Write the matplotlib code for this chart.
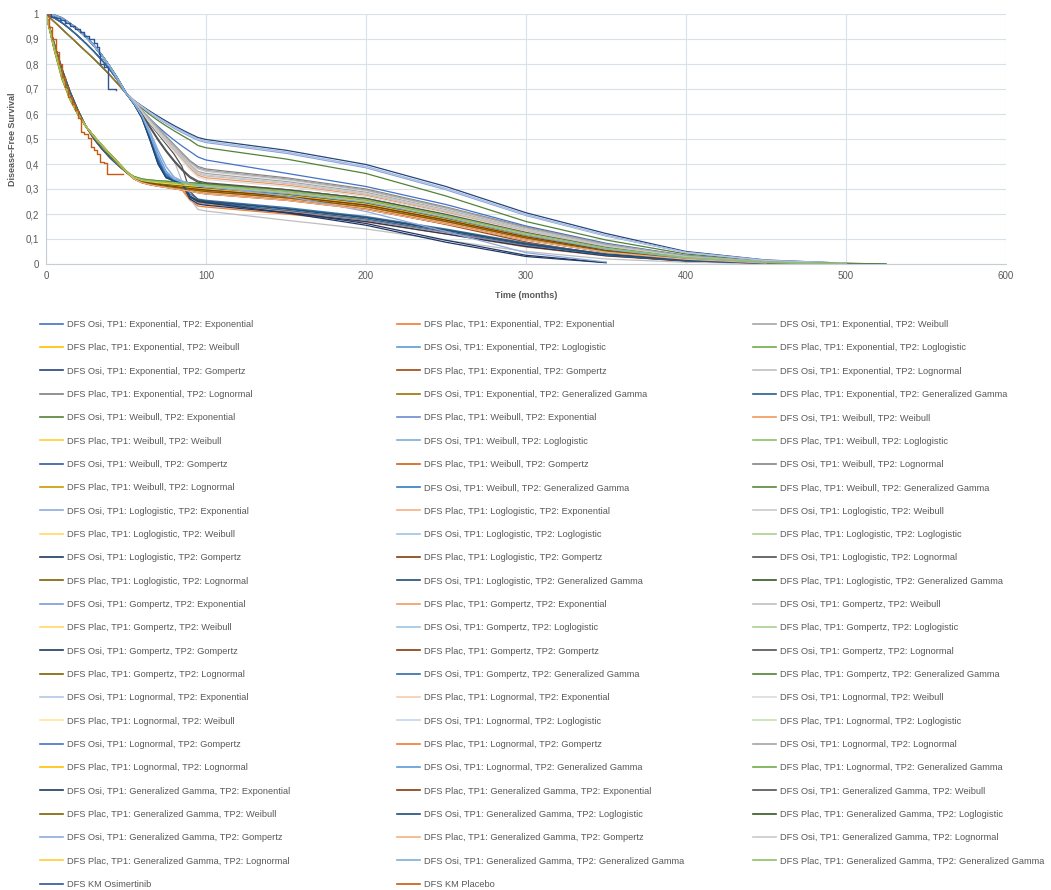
import numpy as np
import matplotlib.pyplot as plt
from matplotlib.ticker import FuncFormatter
from matplotlib.lines import Line2D

plt.rcParams['font.family'] = ['Liberation Sans', 'DejaVu Sans']
TXT = '#595959'

tp_names = ["Exponential", "Weibull", "Loglogistic", "Gompertz", "Lognormal", "Generalized Gamma"]

# time grid (months): first part shared per TP1, second part per curve
months_early = [0, 5, 10, 15, 20, 25, 30, 35, 40, 45, 50]
months_late = [55, 60, 65, 70, 75, 80, 85, 90, 95, 100, 150, 200, 250, 300, 350, 400, 450, 500, 525]

# ---- Osimertinib, months 0-50, by TP1
osi_early_exponential = [1, .97, .94, .91, .88, .85, .82, .788, .755, .72, .683]
osi_early_weibull = [1, .995, .983, .962, .94, .91, .875, .835, .79, .74, .685]
osi_early_loglogistic = [1, .994, .981, .96, .937, .907, .872, .832, .787, .737, .683]
osi_early_gompertz = [1, .985, .965, .94, .912, .882, .85, .815, .777, .733, .685]
osi_early_lognormal = [1, .997, .985, .963, .94, .91, .874, .833, .787, .736, .682]
osi_early_gengamma = [1, .995, .982, .961, .938, .908, .873, .833, .788, .738, .683]

# ---- Placebo, months 0-50, by TP1
plac_early_exponential = [1, .885, .78, .69, .615, .55, .5, .46, .425, .395, .368]
plac_early_weibull = [1, .87, .75, .665, .6, .55, .51, .473, .438, .404, .37]
plac_early_loglogistic = [1, .865, .745, .66, .598, .55, .51, .474, .44, .406, .372]
plac_early_gompertz = [1, .875, .76, .67, .603, .55, .508, .47, .435, .401, .368]
plac_early_lognormal = [1, .86, .74, .658, .597, .55, .511, .475, .441, .407, .373]
plac_early_gengamma = [1, .868, .748, .662, .6, .55, .51, .474, .439, .405, .371]

# ---- Osimertinib curves after month 50
osi_upper_navy = [.655, .632, .611, .591, .572, .554, .537, .521, .506, .498, .455, .398, .31, .205, .122, .05, .016, .003, 0]
osi_upper_lightblue_a = [.654, .63, .607, .586, .566, .548, .531, .515, .5, .491, .448, .39, .302, .198, .115, .047, .015, .003, None]
osi_upper_lightblue_b = [.653, .628, .604, .582, .562, .543, .526, .51, .495, .486, .443, .385, .297, .194, .112, .046, .014, .003, None]
osi_upper_paleblue = [.653, .629, .606, .584, .564, .546, .529, .513, .498, .489, .446, .388, .3, .196, .113, .046, .014, .003, None]
osi_upper_green = [.65, .622, .597, .574, .553, .533, .514, .496, .474, .465, .42, .362, .272, .17, .096, .04, .012, .002, 0]
osi_upper_blue = [.645, .612, .58, .55, .522, .496, .472, .45, .428, .416, .363, .31, .238, .152, .083, .034, .01, .002, None]

osi_gray_a = [.652, .615, .58, .546, .512, .478, .445, .413, .39, .38, .345, .3, .228, .148, .08, .033, .009, .002, None]
osi_gray_b = [.651, .613, .577, .542, .507, .472, .438, .405, .38, .37, .337, .293, .222, .143, .077, .031, .009, .002, None]
osi_gray_c = [.65, .611, .573, .537, .501, .466, .431, .397, .37, .362, .33, .287, .217, .14, .074, .03, .008, .001, None]
osi_gray_d = [.649, .608, .569, .532, .495, .459, .424, .39, .361, .352, .322, .28, .211, .135, .071, .029, .008, .001, None]
osi_gray_e = [.648, .606, .566, .528, .491, .455, .42, .384, .355, .345, .316, .275, .207, .132, .069, .028, .008, .001, None]
osi_gray_f = [.647, .604, .563, .525, .487, .45, .414, .378, .348, .338, .31, .27, .203, .129, .067, .027, .007, .001, None]
osi_gray_g = [.652, .614, .578, .544, .509, .475, .441, .409, .385, .375, .341, .296, .225, .146, .079, .032, .009, .002, None]
osi_gray_h = [.65, .61, .571, .534, .498, .462, .427, .393, .365, .356, .325, .283, .214, .137, .072, .029, .008, .001, None]
osi_mid_a = [.645, .6, .55, .5, .455, .415, .38, .35, .332, .325, .298, .262, .198, .126, .066, .027, .007, .001, None]
osi_mid_b = [.644, .598, .545, .495, .45, .41, .375, .345, .327, .32, .293, .257, .194, .123, .064, .026, .007, .001, None]

osi_steep_band_a = [.64, .585, .5, .405, .348, .333, .325, .318, .312, .308, .283, .248, .187, .117, .06, .024, .006, .001, None]
osi_steep_band_b = [.642, .59, .515, .43, .365, .338, .328, .32, .313, .309, .285, .25, .189, .119, .061, .025, .006, .001, None]
osi_steep_band_c = [.641, .587, .505, .415, .355, .335, .326, .319, .311, .305, .28, .244, .183, .114, .058, .023, .006, .001, None]
osi_steep_band_d = [.643, .595, .53, .455, .39, .348, .332, .322, .315, .311, .288, .253, .192, .121, .063, .025, .006, .001, None]
osi_steep_band_e = [.64, .583, .495, .4, .345, .332, .324, .316, .309, .302, .276, .24, .179, .11, .055, .022, .005, .001, None]
osi_steep_band_f = [.641, .588, .508, .42, .358, .336, .327, .319, .312, .306, .281, .246, .185, .115, .059, .023, .006, .001, None]
osi_steep_band_g = [.642, .59, .512, .425, .36, .337, .328, .321, .315, .312, .289, .254, .193, .122, .063, .026, .006, .001, None]
osi_steep_band_h = [.64, .584, .497, .402, .347, .333, .325, .317, .31, .304, .279, .243, .182, .113, .057, .023, .005, .001, None]
osi_steep_band_i = [.643, .593, .522, .44, .372, .34, .329, .321, .314, .309, .284, .249, .188, .118, .06, .024, .006, .001, None]
osi_steep_band_j = [.642, .591, .516, .432, .366, .339, .328, .32, .313, .307, .282, .247, .186, .116, .059, .024, .006, .001, None]

osi_steep_low_a = [.64, .585, .5, .405, .348, .333, .322, .272, .254, .25, .22, .185, .135, .08, .038, .015, .004, .001, None]
osi_steep_low_b = [.641, .587, .505, .415, .353, .334, .32, .265, .245, .24, .21, .176, .127, .074, .035, .013, .003, None, None]
osi_steep_low_c = [.642, .59, .51, .42, .36, .336, .318, .26, .24, .235, .205, .17, .12, .07, .033, .013, .003, None, None]
osi_steep_low_d = [.642, .59, .512, .425, .36, .337, .325, .28, .26, .255, .226, .19, .14, .084, .04, .016, .004, .001, None]
osi_steep_low_e = [.641, .586, .502, .41, .35, .333, .321, .268, .25, .245, .215, .18, .13, .077, .036, .014, .003, None, None]

osi_end_a = [.64, .583, .495, .4, .345, .332, .32, .268, .25, .245, .205, .155, .087, .03, .005, None, None, None, None]
osi_end_b = [.641, .586, .5, .41, .35, .333, .321, .27, .253, .248, .21, .162, .095, .035, .006, None, None, None, None]
osi_end_c = [.643, .595, .53, .455, .39, .348, .332, .322, .315, .31, .272, .21, .13, .045, .008, None, None, None, None]
osi_low_gray = [.645, .6, .55, .5, .455, .415, .33, .26, .218, .212, .175, .14, .095, .05, .02, .007, .002, None, None]
osi_low_darkgray = [.646, .603, .56, .52, .48, .44, .39, .29, .258, .252, .222, .187, .137, .082, .04, .016, .004, .001, None]

# ---- Placebo curves after month 50
plac_band_a1 = [.35, .34, .336, .333, .331, .329, .327, .325, .323, .321, .297, .262, .198, .126, .066, .027, .007, .001, None]
plac_band_a2 = [.348, .337, .333, .33, .327, .325, .323, .32, .318, .316, .292, .257, .194, .123, .064, .026, .007, .001, None]
plac_band_b1 = [.346, .334, .329, .325, .322, .319, .316, .313, .311, .309, .284, .25, .188, .119, .061, .025, .006, .001, None]
plac_band_b2 = [.345, .332, .327, .323, .319, .316, .313, .31, .307, .305, .28, .245, .184, .116, .059, .024, .006, .001, None]
plac_band_c1 = [.344, .331, .325, .321, .317, .313, .309, .306, .303, .3, .275, .24, .18, .112, .057, .023, .006, .001, None]
plac_band_c2 = [.343, .33, .323, .319, .314, .31, .306, .302, .299, .296, .271, .236, .176, .109, .055, .022, .005, .001, None]
plac_band_d1 = [.342, .328, .321, .316, .311, .307, .303, .298, .294, .29, .265, .229, .17, .104, .052, .021, .005, .001, None]
plac_band_d2 = [.341, .327, .319, .314, .309, .304, .3, .295, .29, .286, .26, .224, .166, .1, .05, .02, .005, .001, None]
plac_band_e1 = [.34, .325, .317, .311, .306, .301, .296, .291, .285, .28, .255, .218, .16, .096, .047, .019, .004, None, None]
plac_low_a = [.34, .325, .317, .312, .307, .302, .296, .255, .232, .228, .2, .168, .12, .068, .032, .012, .003, None, None]
plac_low_b = [.341, .326, .319, .314, .309, .305, .299, .265, .244, .24, .212, .178, .128, .075, .035, .014, .003, None, None]
plac_gomp = [.342, .328, .321, .316, .311, .307, .303, .298, .294, .29, .262, .222, .158, .088, .036, .01, .002, None, None]

# which late curve belongs to which model (rows: TP1, columns: TP2)
osi_tp1_exponential = [osi_upper_blue, osi_gray_c, osi_steep_band_a, osi_upper_navy, osi_low_gray, osi_steep_band_g]
osi_tp1_weibull = [osi_upper_green, osi_gray_e, osi_steep_band_b, osi_steep_low_b, osi_gray_a, osi_steep_low_d]
osi_tp1_loglogistic = [osi_upper_lightblue_a, osi_gray_b, osi_steep_band_c, osi_end_b, osi_low_darkgray, osi_steep_band_h]
osi_tp1_gompertz = [osi_upper_lightblue_b, osi_gray_d, osi_steep_band_d, osi_steep_low_c, osi_mid_b, osi_steep_low_e]
osi_tp1_lognormal = [osi_upper_paleblue, osi_gray_f, osi_steep_band_e, osi_steep_band_f, osi_gray_g, osi_steep_band_i]
osi_tp1_gengamma = [osi_end_a, osi_mid_a, osi_steep_low_a, osi_end_c, osi_gray_h, osi_steep_band_j]

plac_tp1_exponential = [plac_low_a, plac_band_b2, plac_band_a1, plac_gomp, plac_band_b1, plac_band_b2]
plac_tp1_weibull = [plac_band_c1, plac_band_c1, plac_band_a2, plac_band_d2, plac_band_c1, plac_band_a2]
plac_tp1_loglogistic = [plac_band_d2, plac_band_b1, plac_band_a1, plac_band_c2, plac_band_b2, plac_band_b1]
plac_tp1_gompertz = [plac_low_b, plac_band_c2, plac_band_a2, plac_band_e1, plac_band_c2, plac_band_a1]
plac_tp1_lognormal = [plac_band_d1, plac_band_b2, plac_band_b1, plac_band_d1, plac_band_c1, plac_band_b1]
plac_tp1_gengamma = [plac_band_c2, plac_band_d1, plac_band_b2, plac_band_e1, plac_band_b1, plac_band_a2]

# Kaplan-Meier
km_osi_months = [0, 3, 6, 9, 12, 15, 18, 21, 24, 27, 30, 32, 33, 34, 36, 39, 44]
km_osi_surv = [1, .99, .985, .975, .965, .952, .94, .927, .913, .9, .885, .87, .84, .80, .79, .70, .695]
km_plac_months = [0, 2, 4, 6, 8, 10, 12, 14, 16, 18, 20, 22, 24, 26, 28, 30, 32, 34, 36, 38, 48]
km_plac_surv = [1, .95, .9, .85, .8, .75, .71, .67, .64, .615, .585, .53, .52, .505, .47, .455, .44, .41, .405, .36, .36]

colors = [
    '#4472C4', '#ED7D31', '#A5A5A5', '#FFC000', '#5B9BD5', '#70AD47',
    '#264478', '#9E480E', '#BFBFBF', '#7F7F7F', '#997300', '#255E91',
    '#548235', '#698ED0', '#F1975A', '#FFCD33', '#7CAFDD', '#8CC168',
    '#335AA1', '#D26012', '#848484', '#CC9A00', '#327DC2', '#5A8A39',
    '#8FAADC', '#F4B183', '#C9C9C9', '#FFD966', '#9DC3E6', '#A9D18E',
    '#203864', '#843C0C', '#525252', '#7F6000', '#1F4E79', '#375623',
    '#7C9BD6', '#F19C65', '#C0C0C0', '#FFD966', '#9DC3E6', '#A9D18E',
    '#203864', '#843C0C', '#525252', '#7F6000', '#2E6DA4', '#548235',
    '#B4C7E7', '#F8CBAD', '#DBDBDB', '#FFE699', '#BDD7EE', '#C5E0B4',
    '#4472C4', '#ED7D31', '#A5A5A5', '#FFC000', '#5B9BD5', '#70AD47',
    '#203864', '#843C0C', '#525252', '#7F6000', '#1F4E79', '#375623',
    '#8FAADC', '#F4B183', '#C9C9C9', '#FFCD33', '#7CAFDD', '#8CC168',
    '#2F5597', '#C55A11',
]

osi_early = [osi_early_exponential, osi_early_weibull, osi_early_loglogistic,
             osi_early_gompertz, osi_early_lognormal, osi_early_gengamma]
plac_early = [plac_early_exponential, plac_early_weibull, plac_early_loglogistic,
              plac_early_gompertz, plac_early_lognormal, plac_early_gengamma]
osi_late = [osi_tp1_exponential, osi_tp1_weibull, osi_tp1_loglogistic,
            osi_tp1_gompertz, osi_tp1_lognormal, osi_tp1_gengamma]
plac_late = [plac_tp1_exponential, plac_tp1_weibull, plac_tp1_loglogistic,
             plac_tp1_gompertz, plac_tp1_lognormal, plac_tp1_gengamma]

months = np.array(months_early + months_late, dtype=float)

fig = plt.figure(figsize=(10.51, 8.9), dpi=100)
ax = fig.add_axes([46 / 1051, 1 - 264 / 890, 960 / 1051, 250 / 890])

handles = []
labels = []
k = 0
for i, tp1 in enumerate(tp_names):
    for j, tp2 in enumerate(tp_names):
        for arm, early, late in (("Osi", osi_early, osi_late), ("Plac", plac_early, plac_late)):
            surv = np.array(early[i] + late[i][j], dtype=float)
            ln, = ax.plot(months, surv, color=colors[k], lw=0.9)
            handles.append(ln)
            labels.append(f"DFS {arm}, TP1: {tp1}, TP2: {tp2}")
            k += 1

ln, = ax.plot(km_osi_months, km_osi_surv, drawstyle='steps-post', color=colors[72], lw=1.0)
handles.append(ln)
labels.append("DFS KM Osimertinib")
ln, = ax.plot(km_plac_months, km_plac_surv, drawstyle='steps-post', color=colors[73], lw=1.0)
handles.append(ln)
labels.append("DFS KM Placebo")

ax.set_xlim(0, 600)
ax.set_ylim(0, 1)
ax.set_xticks(np.arange(0, 601, 100))
ax.set_yticks(np.arange(0, 1.01, 0.1))
ax.yaxis.set_major_formatter(FuncFormatter(
    lambda v, p: str(int(round(v))) if abs(v - round(v)) < 1e-9 else f"{v:.1f}".replace('.', ',')))
ax.grid(True, color='#DAE0E8', lw=0.8)
ax.set_axisbelow(True)
for s in ('top', 'right'):
    ax.spines[s].set_visible(False)
for s in ('left', 'bottom'):
    ax.spines[s].set_color('#C8CDD5')
ax.tick_params(length=0, labelsize=7, colors=TXT, pad=5)
ax.set_xlabel("Time (months)", fontsize=6.5, fontweight='bold', color=TXT, labelpad=7)
ax.set_ylabel("Disease-Free Survival", fontsize=6.5, fontweight='bold', color=TXT, labelpad=6)

# legend: three columns, filled row by row
col_x = [40, 397, 753]
for c in range(3):
    idx = list(range(c, len(handles), 3))
    hs = [Line2D([], [], color=handles[n].get_color(), lw=1.2) for n in idx]
    fig.legend(hs, [labels[n] for n in idx], loc='upper left',
               bbox_to_anchor=(col_x[c] / 1051, 1 - 320 / 890),
               frameon=False, fontsize=6.7, labelcolor=TXT,
               handlelength=2.47, handletextpad=0.43, labelspacing=1.54,
               borderpad=0, borderaxespad=0)

fig.savefig("out.png", dpi=100)
